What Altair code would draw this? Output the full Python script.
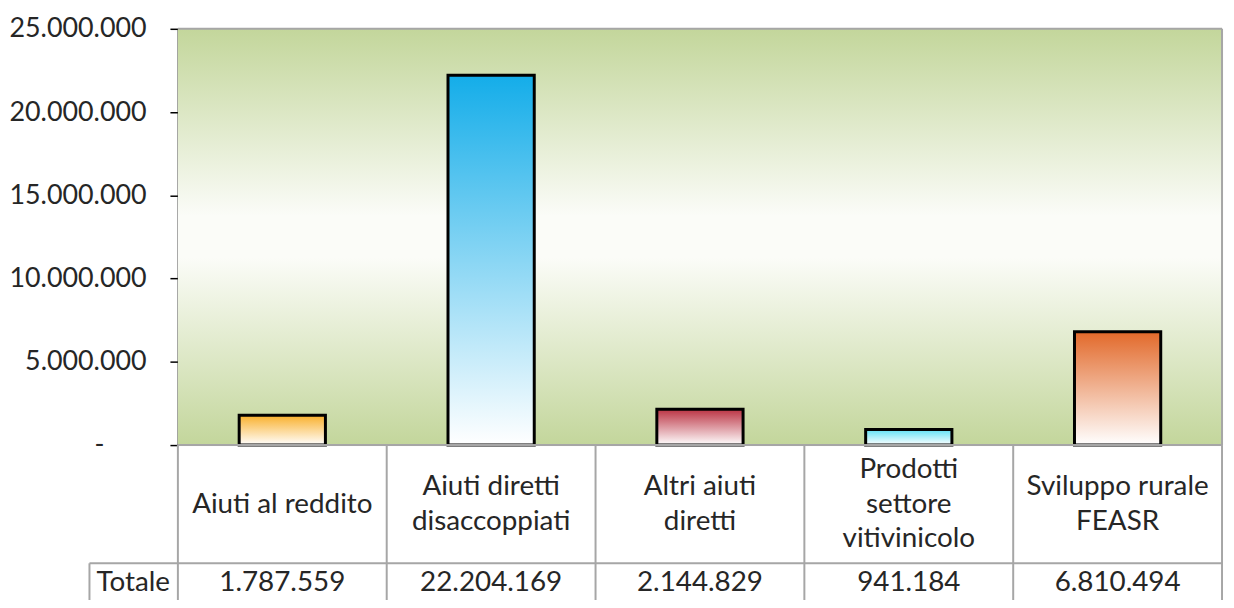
import altair as alt
import pandas as pd

categories = ["Aiuti al reddito", "Aiuti diretti\ndisaccoppiati", "Altri aiuti\ndiretti",
              "Prodotti\nsettore\nvitivinicolo", "Sviluppo rurale\nFEASR"]
values = [1787559, 22204169, 2144829, 941184, 6810494]
top_colors = ["#f9b02c", "#14ade9", "#bb3444", "#5fe0f4", "#e2692a"]
row_label = "Totale"
zero_label = "-"
y_ticks = [0, 5000000, 10000000, 15000000, 20000000, 25000000]

W, H = 1051, 419
FONT = "Lato"
TXT = "#262626"
GRID_GRAY = "#a6a6a6"
LINE_H = 35
FS = 28

df = pd.DataFrame({
    "cat": categories,
    "value": values,
    "label": [f"{v:,}".replace(",", ".") for v in values],
})

xscale = alt.Scale(domain=categories, paddingInner=0.587, paddingOuter=0.2935)
yscale = alt.Scale(domain=[0, 25000000], nice=False, zero=True)

one = pd.DataFrame({"a": [0]})

# background gradient
bg = alt.Chart(one).mark_rect(
    fill=alt.Gradient(gradient="linear", x1=0, y1=0, x2=0, y2=1,
                      stops=[alt.GradientStop(offset=0, color="#c3d69b"),
                             alt.GradientStop(offset=0.45, color="#fbfcf8"),
                             alt.GradientStop(offset=0.55, color="#fbfcf8"),
                             alt.GradientStop(offset=1, color="#c3d69b")])
).encode(x=alt.value(0), x2=alt.value(W), y=alt.value(0), y2=alt.value(H))

# axis + grid
axis_layer = alt.Chart(df).mark_bar(opacity=0).encode(
    x=alt.X("cat:N", scale=xscale, sort=categories, axis=None),
    y=alt.Y("value:Q", scale=yscale, title=None,
            axis=alt.Axis(values=y_ticks, grid=True,
                          gridColor={"condition": {"test": "datum.value > 0 && datum.value < 25000000",
                                                   "value": "#000000"}, "value": "transparent"},
                          gridWidth=1.5,
                          domainColor="#000000", domainWidth=1.5,
                          tickColor="#000000", tickSize=8, tickWidth=1.5,
                          labelFont=FONT, labelFontSize=27, labelColor=TXT, labelPadding=24,
                          labelExpr="datum.value == 0 ? '' : replace(replace(format(datum.value, ',d'), ',', '.'), ',', '.')"))
)

zero_text = alt.Chart(pd.DataFrame({"v": [0], "t": [zero_label]})).mark_text(
    font=FONT, fontSize=27, color=TXT, align="center", baseline="middle").encode(
    x=alt.value(-79), y=alt.Y("v:Q", scale=yscale), text="t:N")

bars = []
for cat, col in zip(categories, top_colors):
    bars.append(
        alt.Chart(df).transform_filter(alt.datum.cat == cat).mark_bar(
            stroke="#000000", strokeWidth=3,
            fill=alt.Gradient(gradient="linear", x1=0, y1=0, x2=0, y2=1,
                              stops=[alt.GradientStop(offset=0, color=col),
                                     alt.GradientStop(offset=1, color="#ffffff")])
        ).encode(
            x=alt.X("cat:N", scale=xscale, sort=categories, axis=None),
            y=alt.Y("value:Q", scale=yscale),
        )
    )

# table lines
step = W / len(categories)
bounds = pd.DataFrame({"bx": [i * step for i in range(len(categories) + 1)]})
vlines = alt.Chart(bounds).mark_rule(color=GRID_GRAY, strokeWidth=2).encode(
    x=alt.X("bx:Q", scale=None), y=alt.value(H), y2=alt.value(H + 160))
hlines = alt.Chart(one).mark_rule(color=GRID_GRAY, strokeWidth=2).encode(
    x=alt.value(-89), x2=alt.value(W), y=alt.value(H + 119))
hline_top = alt.Chart(one).mark_rule(color=GRID_GRAY, strokeWidth=2).encode(
    x=alt.value(0), x2=alt.value(W), y=alt.value(H))
vline_left = alt.Chart(one).mark_rule(color=GRID_GRAY, strokeWidth=2).encode(
    x=alt.value(-89), y=alt.value(H + 119), y2=alt.value(H + 160))
hline_plot_top = alt.Chart(one).mark_rule(color=GRID_GRAY, strokeWidth=2).encode(
    x=alt.value(0), x2=alt.value(W), y=alt.value(0))
vline_right = alt.Chart(one).mark_rule(color=GRID_GRAY, strokeWidth=2).encode(
    x=alt.value(W), y=alt.value(0), y2=alt.value(H))

cat_text = alt.Chart(df).transform_calculate(
    ty=f"{H + 60} - (length(split(datum.cat, '\\n')) - 1) * {LINE_H / 2}"
).mark_text(font=FONT, fontSize=FS, color=TXT, lineBreak="\n",
            lineHeight=LINE_H, baseline="middle", align="center").encode(
    x=alt.X("cat:N", scale=xscale, sort=categories, axis=None),
    y=alt.Y("ty:Q", scale=None), text="cat:N")

val_text = alt.Chart(df).mark_text(font=FONT, fontSize=FS, color=TXT,
                                   baseline="middle", align="center").encode(
    x=alt.X("cat:N", scale=xscale, sort=categories, axis=None),
    y=alt.value(H + 139), text="label:N")

tot_text = alt.Chart(pd.DataFrame({"t": [row_label]})).mark_text(
    font=FONT, fontSize=FS, color=TXT, baseline="middle", align="center").encode(
    x=alt.value(-45), y=alt.value(H + 139), text="t:N")

chart = alt.layer(bg, axis_layer, *bars, vlines, hlines, hline_top, vline_left,
                  hline_plot_top, vline_right, zero_text, cat_text, val_text, tot_text).properties(
    width=W, height=H,
    autosize=alt.AutoSizeParams(type="none"),
    padding={"left": 171, "top": 19, "right": 4, "bottom": 154},
).configure_view(stroke=None).configure(background="#ffffff")

chart.save("out.html", embed_options={"renderer": "svg", "actions": False})
